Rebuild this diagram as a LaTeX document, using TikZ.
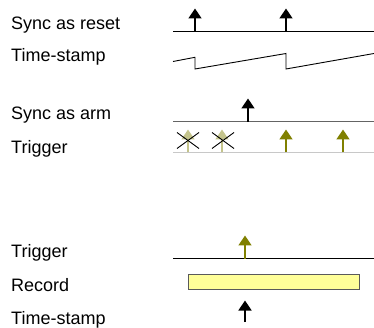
\documentclass[tikz,border=0pt]{standalone}
\usepackage{fontspec}
\setmainfont{Liberation Sans}
\usetikzlibrary{arrows.meta}
\definecolor{olivearr}{RGB}{128,128,0}
\definecolor{fadearr}{RGB}{196,196,140}
\definecolor{recfill}{RGB}{255,255,153}
\definecolor{recdraw}{RGB}{90,90,90}
\definecolor{armline}{RGB}{100,100,100}
\definecolor{trigline}{RGB}{200,200,200}
\begin{document}
\begin{tikzpicture}[x=1pt,y=-1pt,
  lbl/.style={anchor=base west,inner sep=0pt,font=\fontsize{18}{21}\selectfont},
  axis/.style={line width=1pt,black},
  pulse/.style={line width=1.6pt,-{Triangle[width=13pt,length=10pt]}},
  cross/.style={line width=0.9pt,black}]
\useasboundingbox (0,0) rectangle (374,328);
% labels
\node[lbl] (l1) at (11,29.5) {Sync as reset};
\node[lbl] (l2) at (11,62) {Time-stamp};
\node[lbl] (l3) at (11,120) {Sync as arm};
\node[lbl] (l4) at (11,154) {Trigger};
\node[lbl] (l5) at (11,257) {Trigger};
\node[lbl] (l6) at (11,291) {Record};
\node[lbl] (l7) at (11,324) {Time-stamp};
% sync as reset
\coordinate (r0) at (173,31.5);
\coordinate (r1) at (374,31.5);
\draw[axis] (r0) -- (r1);
\coordinate (ra1) at (195,31.5); \coordinate (ra1t) at (195,8.5);
\coordinate (ra2) at (286,31.5); \coordinate (ra2t) at (286,8.5);
\draw[pulse] (ra1) -- (ra1t);
\draw[pulse] (ra2) -- (ra2t);
% time-stamp sawtooth
\coordinate (s0) at (173,61.5);
\coordinate (s1) at (195,57.3);
\coordinate (s2) at (195,69);
\coordinate (s3) at (286,53.5);
\coordinate (s4) at (286,69);
\coordinate (s5) at (374,53.5);
\draw[line width=0.9pt] (s0) -- (s1) -- (s2) -- (s3) -- (s4) -- (s5);
% sync as arm
\coordinate (a0) at (173,122);
\coordinate (a1) at (374,122);
\draw[line width=1pt,armline] (a0) -- (a1);
\coordinate (aa) at (248,122); \coordinate (aat) at (248,98.5);
\draw[pulse] (aa) -- (aat);
% trigger (arm)
\coordinate (t0) at (173,152.5);
\coordinate (t1) at (374,152.5);
\draw[line width=1pt,trigline] (t0) -- (t1);
\foreach \x/\n in {188/f1,222/f2}{
  \coordinate (\n b) at (\x,152.5); \coordinate (\n t) at (\x,129.5);
  \draw[pulse,fadearr] (\n b) -- (\n t);
}
\foreach \x/\n in {286/o1,343/o2}{
  \coordinate (\n b) at (\x,152.5); \coordinate (\n t) at (\x,129.5);
  \draw[pulse,olivearr] (\n b) -- (\n t);
}
\foreach \x/\n in {188/x1,223/x2}{
  \coordinate (\n a) at (\x-11,132.5); \coordinate (\n b) at (\x+11,148.5);
  \coordinate (\n c) at (\x-11,148.5); \coordinate (\n d) at (\x+11,132.5);
  \draw[cross] (\n a) -- (\n b);
  \draw[cross] (\n c) -- (\n d);
}
% trigger (record)
\coordinate (u0) at (173,258.5);
\coordinate (u1) at (374,258.5);
\draw[axis] (u0) -- (u1);
\coordinate (ub) at (245,258.5); \coordinate (ut) at (245,235.5);
\draw[pulse,olivearr] (ub) -- (ut);
% record bar
\node[draw=recdraw,fill=recfill,line width=1pt,minimum width=170.5pt,minimum height=15.5pt,inner sep=0pt,anchor=north west] (rec) at (188,273.5) {};
% time-stamp arrow
\coordinate (vb) at (245,322); \coordinate (vt) at (245,300.5);
\draw[pulse] (vb) -- (vt);
\end{tikzpicture}
\end{document}
